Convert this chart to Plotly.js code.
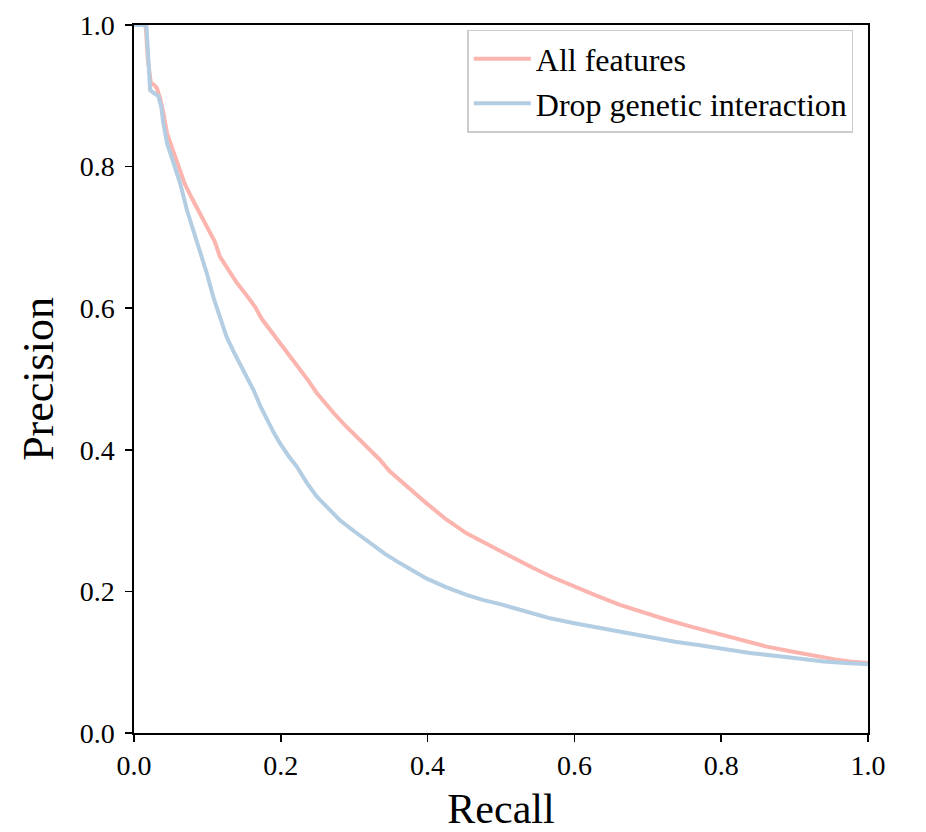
<!DOCTYPE html>
<html>
<head>
<meta charset="utf-8">
<script src="https://cdn.plot.ly/plotly-3.0.1.min.js"></script>
<style>html,body{margin:0;padding:0;background:#fff;}#chart{width:926px;height:832px;}</style>
</head>
<body>
<div id="chart"></div>
<script>
const seriesNames = ["All features", "Drop genetic interaction"];

const recallAll = [0, 0.012, 0.016, 0.019, 0.023, 0.028, 0.031, 0.036, 0.040, 0.045, 0.050, 0.056, 0.062, 0.069, 0.078, 0.087, 0.096, 0.104, 0.110, 0.117, 0.128, 0.140, 0.152, 0.165, 0.174, 0.188, 0.203, 0.215, 0.226, 0.238, 0.249, 0.260, 0.272, 0.288, 0.303, 0.320, 0.335, 0.348, 0.362, 0.380, 0.399, 0.425, 0.453, 0.475, 0.499, 0.520, 0.544, 0.570, 0.599, 0.630, 0.662, 0.694, 0.726, 0.760, 0.794, 0.828, 0.862, 0.896, 0.930, 0.955, 0.975, 0.990, 1.0];
const precisionAll = [1.0, 1.0, 0.998, 0.950, 0.918, 0.915, 0.911, 0.895, 0.876, 0.847, 0.832, 0.814, 0.797, 0.776, 0.757, 0.739, 0.722, 0.708, 0.694, 0.673, 0.655, 0.636, 0.620, 0.602, 0.585, 0.566, 0.546, 0.530, 0.513, 0.497, 0.480, 0.466, 0.452, 0.434, 0.419, 0.401, 0.386, 0.370, 0.358, 0.341, 0.324, 0.302, 0.282, 0.270, 0.258, 0.245, 0.233, 0.220, 0.207, 0.194, 0.181, 0.170, 0.160, 0.150, 0.141, 0.131, 0.122, 0.115, 0.108, 0.104, 0.101, 0.100, 0.099];

const recallDrop = [0, 0.013, 0.017, 0.020, 0.022, 0.028, 0.033, 0.037, 0.040, 0.045, 0.054, 0.063, 0.072, 0.081, 0.090, 0.099, 0.108, 0.117, 0.126, 0.135, 0.144, 0.153, 0.163, 0.172, 0.181, 0.190, 0.199, 0.210, 0.222, 0.235, 0.249, 0.265, 0.281, 0.300, 0.322, 0.342, 0.362, 0.380, 0.399, 0.425, 0.453, 0.475, 0.499, 0.533, 0.567, 0.600, 0.635, 0.670, 0.703, 0.737, 0.771, 0.805, 0.839, 0.873, 0.907, 0.940, 0.970, 1.0];
const precisionDrop = [1.0, 1.0, 0.998, 0.950, 0.908, 0.903, 0.900, 0.885, 0.861, 0.833, 0.805, 0.776, 0.739, 0.710, 0.682, 0.650, 0.616, 0.588, 0.560, 0.540, 0.522, 0.503, 0.484, 0.462, 0.442, 0.425, 0.409, 0.392, 0.376, 0.354, 0.334, 0.316, 0.300, 0.285, 0.268, 0.253, 0.240, 0.229, 0.218, 0.206, 0.195, 0.188, 0.182, 0.172, 0.162, 0.155, 0.148, 0.141, 0.135, 0.129, 0.124, 0.118, 0.113, 0.109, 0.105, 0.101, 0.099, 0.097];

const xTicks = [0.0, 0.2, 0.4, 0.6, 0.8, 1.0];
const yTicks = [0.0, 0.2, 0.4, 0.6, 0.8, 1.0];

const FONT = "Liberation Serif";

const traces = [
  {x: recallAll, y: precisionAll, name: seriesNames[0], mode: "lines",
   line: {color: "#fbb4ae", width: 4}},
  {x: recallDrop, y: precisionDrop, name: seriesNames[1], mode: "lines",
   line: {color: "#b3cde3", width: 4}}
];

const axisCommon = {
  showgrid: false, zeroline: false, showline: true, mirror: true,
  linecolor: "#000", linewidth: 1.6,
  ticks: "outside", ticklen: 7, tickwidth: 1.6, tickcolor: "#000",
  tickfont: {family: FONT, size: 28, color: "#000"},
  tickformat: ".1f"
};

const layout = {
  width: 926, height: 832,
  margin: {l: 134, r: 58, t: 25, b: 99},
  paper_bgcolor: "#fff", plot_bgcolor: "#fff",
  font: {family: FONT, color: "#000"},
  showlegend: true,
  xaxis: Object.assign({}, axisCommon, {
    range: [0, 1], tickvals: xTicks,
    title: {text: "Recall", font: {family: FONT, size: 42, color: "#000"}, standoff: 14}
  }),
  yaxis: Object.assign({}, axisCommon, {
    range: [0, 1], tickvals: yTicks, ticklabelstandoff: 5,
    title: {text: "Precision", font: {family: FONT, size: 44, color: "#000"}, standoff: 12}
  }),
  legend: {
    x: 0.98, y: 0.993, xanchor: "right", yanchor: "top",
    bgcolor: "rgba(255,255,255,0.8)", bordercolor: "#cccccc", borderwidth: 1.5,
    font: {family: FONT, size: 32, color: "#000"},
    itemwidth: 57,
    tracegroupgap: 0
  }
};

Plotly.newPlot("chart", traces, layout, {displayModeBar: false, staticPlot: true});
</script>
</body>
</html>
